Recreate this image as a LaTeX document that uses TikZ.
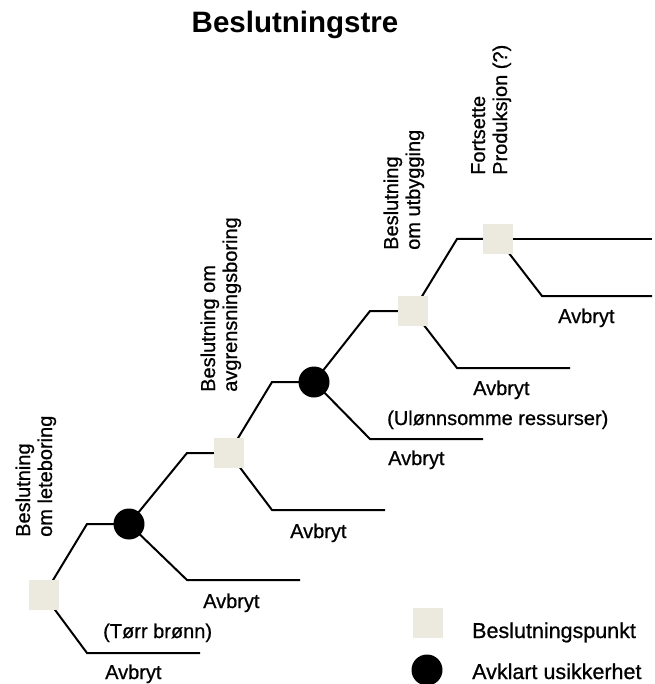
\documentclass[tikz,border=0pt]{standalone}
\usepackage{fontspec}
\setmainfont{Liberation Sans}
\newfontfamily\labelfont{Liberation Sans}[FakeBold=0.7]
\usetikzlibrary{backgrounds}
\definecolor{beige}{RGB}{236,233,222}
\begin{document}
\begin{tikzpicture}[x=1pt,y=-1pt,
  branch/.style={line width=2pt, line join=miter},
  decision/.style={rectangle, fill=beige, minimum size=30pt, inner sep=0pt},
  chance/.style={circle, fill=black, minimum size=31pt, inner sep=0pt},
  lbl/.style={font=\labelfont\fontsize{20}{22}\selectfont, anchor=base west, inner sep=0pt},
  vlbl/.style={lbl, rotate=90},
  leg/.style={font=\labelfont\fontsize{21.5}{24}\selectfont, anchor=base west, inner sep=0pt}]
\useasboundingbox (0,0) rectangle (654,684);

% title
\node[font=\bfseries\fontsize{29.5}{31}\selectfont, anchor=base, inner sep=0pt] (title) at (295,33) {Beslutningstre};

% decision and chance nodes
\node[decision] (s1) at (44,595) {};
\node[chance]   (c1) at (129,524) {};
\node[decision] (s2) at (229,453) {};
\node[chance]   (c2) at (314,382) {};
\node[decision] (s3) at (413,311) {};
\node[decision] (s4) at (498,239) {};

% elbows and open branch ends
\coordinate (e1u) at (87,524);
\coordinate (e1d) at (87,653);  \coordinate (t1) at (200,653);
\coordinate (e2u) at (187,453);
\coordinate (e2d) at (187,580); \coordinate (t2) at (300,580);
\coordinate (e3u) at (272,382);
\coordinate (e3d) at (272,510); \coordinate (t3) at (385,510);
\coordinate (e4u) at (370,311);
\coordinate (e4d) at (370,439); \coordinate (t4) at (483,439);
\coordinate (e5u) at (457,239);
\coordinate (e5d) at (457,368); \coordinate (t5) at (570,368);
\coordinate (t6) at (652,239);
\coordinate (e6d) at (542,296); \coordinate (t7) at (652,296);

\begin{scope}[on background layer]
  \fill[white] (0,0) rectangle (654,684);
  \draw[branch] (s1.center) -- (e1u) -- (c1.center);
  \draw[branch] (s1.center) -- (e1d) -- (t1);
  \draw[branch] (c1.center) -- (e2u) -- (s2.center);
  \draw[branch] (c1.center) -- (e2d) -- (t2);
  \draw[branch] (s2.center) -- (e3u) -- (c2.center);
  \draw[branch] (s2.center) -- (e3d) -- (t3);
  \draw[branch] (c2.center) -- (e4u) -- (s3.center);
  \draw[branch] (c2.center) -- (e4d) -- (t4);
  \draw[branch] (s3.center) -- (e5u) -- (s4.center);
  \draw[branch] (s3.center) -- (e5d) -- (t5);
  \draw[branch] (s4.center) -- (t6);
  \draw[branch] (s4.center) -- (e6d) -- (t7);
\end{scope}

% branch labels
\node[lbl] (a1) at (203,608) {Avbryt};
\node[lbl] (d1) at (103,638) {(Tørr brønn)};
\node[lbl] (a0) at (105,679) {Avbryt};
\node[lbl] (a2) at (290,538) {Avbryt};
\node[lbl] (a3) at (388,465) {Avbryt};
\node[lbl] (u1) at (387,425) {(Ulønnsomme ressurser)};
\node[lbl] (a4) at (473,395) {Avbryt};
\node[lbl] (a5) at (558,323) {Avbryt};

% vertical decision captions
\node[vlbl] (v1a) at (30,537) {Beslutning};
\node[vlbl] (v1b) at (52,537) {om leteboring};
\node[vlbl] (v2a) at (215,392) {Beslutning om};
\node[vlbl] (v2b) at (237,392) {avgrensningsboring};
\node[vlbl] (v3a) at (398,250) {Beslutning};
\node[vlbl] (v3b) at (420,250) {om utbygging};
\node[vlbl] (v4a) at (485,175) {Fortsette};
\node[vlbl] (v4b) at (507,175) {Produksjon (?)};

% legend
\node[decision] (ls) at (428,623) {};
\node[chance]   (lc) at (427,670) {};
\node[leg] (lst) at (472,638) {Beslutningspunkt};
\node[leg] (lct) at (472,679) {Avklart usikkerhet};
\end{tikzpicture}
\end{document}
